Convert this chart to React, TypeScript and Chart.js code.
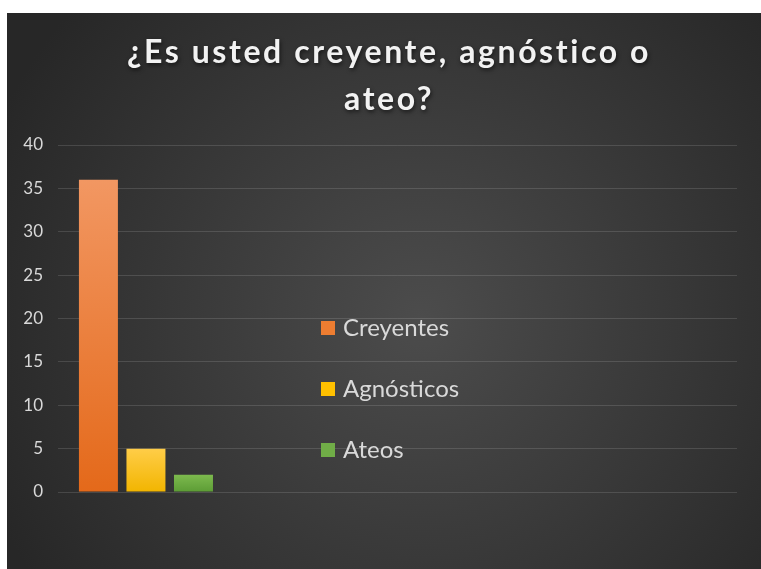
import { useEffect, useRef } from "react";
import { Chart, registerables } from "chart.js";

Chart.register(...registerables);

const TITLE_LINES = ["¿Es usted creyente, agnóstico o", "ateo?"];
const SERIES_NAMES = ["Creyentes", "Agnósticos", "Ateos"];
const CATEGORY_X = [0];
const CREYENTES = [36];
const AGNOSTICOS = [5];
const ATEOS = [2];
const X_MIN = -0.5;
const X_MAX = 3.36;
const Y_MIN = 0;
const Y_MAX = 40;
const Y_STEP = 5;

const SERIES_COLORS = [
  ["#f29762", "#e4691a"],
  ["#ffcd48", "#f2b500"],
  ["#7dba4e", "#5c9c35"],
];
const LEGEND_SWATCH = ["#ed7d31", "#ffc000", "#70ad47"];
const TEXT_COLOR = "#d9d9d9";
const FONT = "Lato, 'Open Sans', sans-serif";

const bgPlugin = {
  id: "bgPlugin",
  beforeDraw(chart: any) {
    const { ctx, width, height } = chart;
    ctx.save();
    const g = ctx.createRadialGradient(width * 0.55, height * 0.55, 0, width * 0.55, height * 0.55, width * 0.62);
    g.addColorStop(0, "#4c4c4c");
    g.addColorStop(1, "#272727");
    ctx.fillStyle = g;
    ctx.fillRect(0, 0, width, height);
    ctx.restore();
  },
};

const titlePlugin = {
  id: "titlePlugin",
  afterDraw(chart: any) {
    const { ctx } = chart;
    ctx.save();
    ctx.font = `bold 32px ${FONT}`;
    (ctx as any).letterSpacing = "2.6px";
    ctx.textAlign = "center";
    ctx.textBaseline = "alphabetic";
    ctx.fillStyle = "#f2f2f2";
    ctx.shadowColor = "rgba(0,0,0,0.6)";
    ctx.shadowBlur = 4;
    ctx.shadowOffsetX = 1;
    ctx.shadowOffsetY = 2;
    TITLE_LINES.forEach((line, i) => {
      ctx.fillText(line, 382, 50 + i * 47);
    });
    ctx.restore();
  },
};

const legendPlugin = {
  id: "customLegend",
  afterDraw(chart: any) {
    const { ctx, chartArea } = chart;
    const x0 = chartArea.left + 263;
    const y0 = chartArea.top + 183;
    const gap = 61;
    ctx.save();
    ctx.font = `24px ${FONT}`;
    ctx.textBaseline = "middle";
    ctx.textAlign = "left";
    chart.data.datasets.forEach((ds: any, i: number) => {
      const cy = y0 + i * gap;
      ctx.fillStyle = LEGEND_SWATCH[i];
      ctx.fillRect(x0, cy - 7, 14, 14);
      ctx.fillStyle = TEXT_COLOR;
      ctx.fillText(ds.label, x0 + 22, cy);
    });
    ctx.restore();
  },
};

function gradientFor(idx: number) {
  return (c: any) => {
    const chart = c.chart;
    const y = chart.scales?.y;
    const v = c.parsed?.y;
    if (!chart.chartArea || !y || v == null) return SERIES_COLORS[idx][1];
    const top = y.getPixelForValue(v);
    const bottom = y.getPixelForValue(0);
    if (!isFinite(top) || !isFinite(bottom) || top === bottom) return SERIES_COLORS[idx][1];
    const g = chart.ctx.createLinearGradient(0, top, 0, bottom);
    g.addColorStop(0, SERIES_COLORS[idx][0]);
    g.addColorStop(1, SERIES_COLORS[idx][1]);
    return g;
  };
}

export default function App() {
  const ref = useRef<HTMLCanvasElement>(null);
  useEffect(() => {
    if (!ref.current) return;
    const seriesData = [CREYENTES, AGNOSTICOS, ATEOS];
    const chart = new Chart(ref.current, {
      type: "bar",
      data: {
        datasets: SERIES_NAMES.map((name, i) => ({
          label: name,
          data: seriesData[i].map((v, k) => ({ x: CATEGORY_X[k], y: v })),
          backgroundColor: gradientFor(i),
          borderWidth: 0,
          categoryPercentage: 0.21,
          barPercentage: 0.82,
        })),
      },
      options: {
        responsive: false,
        animation: false,
        layout: { padding: { top: 132, bottom: 77, right: 24, left: 0 } },
        plugins: {
          legend: { display: false },
          title: { display: false },
          tooltip: { enabled: false },
        },
        scales: {
          x: {
            type: "linear",
            min: X_MIN,
            max: X_MAX,
            display: false,
            offset: false,
            grid: { display: false },
            afterBuildTicks: (s: any) => {
              s.ticks = [];
            },
          },
          y: {
            min: Y_MIN,
            max: Y_MAX,
            afterFit: (s: any) => {
              s.width = 51;
            },
            border: { display: false },
            grid: { color: "rgba(255,255,255,0.13)", lineWidth: 1, drawTicks: false },
            ticks: {
              stepSize: Y_STEP,
              padding: 15,
              color: TEXT_COLOR,
              font: { family: FONT, size: 17 },
            },
          },
        },
      },
      plugins: [bgPlugin, titlePlugin, legendPlugin],
    });
    return () => chart.destroy();
  }, []);
  return (
    <div style={{ position: "absolute", left: 7, top: 13, width: 754, height: 556 }}>
      <canvas ref={ref} width={754} height={556} style={{ display: "block" }} />
    </div>
  );
}
